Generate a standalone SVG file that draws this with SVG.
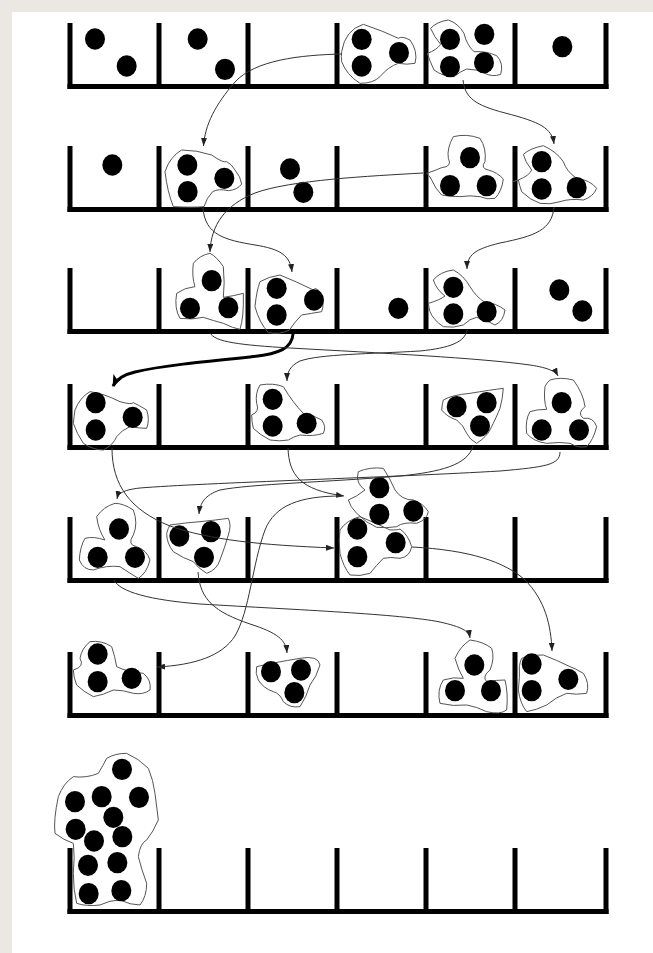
<svg xmlns="http://www.w3.org/2000/svg" width="653" height="953" viewBox="0 0 653 953">
<style>
.blob{fill:none;stroke:#555;stroke-width:1;vector-effect:non-scaling-stroke}
.dot{fill:#000}
.con{fill:none;stroke:#333;stroke-width:1}
.thick{fill:none;stroke:#000;stroke-width:3}
.wall{fill:#000}
</style>
<defs>
<marker id="ah" viewBox="0 0 8 6" refX="8" refY="3" markerWidth="8" markerHeight="6" markerUnits="userSpaceOnUse" orient="auto"><path d="M0,0 L8,3 L0,6 Z" fill="#222"/></marker>
<marker id="ahb" viewBox="0 0 12 10" refX="11" refY="5" markerWidth="12" markerHeight="10" markerUnits="userSpaceOnUse" orient="auto"><path d="M0,0 L12,5 L0,10 L3,5 Z" fill="#000"/></marker>
<g id="rack">
<rect class="wall" x="67.5" y="0" width="541" height="5"/>
<rect class="wall" x="67.5" y="-61" width="5" height="66"/>
<rect class="wall" x="156.5" y="-61" width="5" height="66"/>
<rect class="wall" x="245.5" y="-61" width="5" height="66"/>
<rect class="wall" x="334.5" y="-61" width="5" height="66"/>
<rect class="wall" x="423.5" y="-61" width="5" height="66"/>
<rect class="wall" x="512.5" y="-61" width="5" height="66"/>
<rect class="wall" x="603.5" y="-61" width="5" height="66"/>
</g>
</defs>
<rect x="0" y="0" width="653" height="953" fill="#ebe8e3"/>
<rect x="12" y="12" width="641" height="941" fill="#fff"/>

<g id="racks">
<use href="#rack" y="84"/>
<use href="#rack" y="207"/>
<use href="#rack" y="329"/>
<use href="#rack" y="445"/>
<use href="#rack" y="578"/>
<use href="#rack" y="713"/>
<use href="#rack" y="909"/>
</g>

<!-- Row 1 -->
<g transform="translate(60,15) scale(0.33333)">
<g id="r1b1"><ellipse class="dot" cx="105" cy="72" rx="30" ry="32"/><ellipse class="dot" cx="200" cy="153" rx="30" ry="32"/></g>
<g id="r1b2"><ellipse class="dot" cx="413" cy="72" rx="30" ry="32"/><ellipse class="dot" cx="495" cy="163" rx="30" ry="32"/></g>
</g>
<g transform="translate(330,15) scale(0.33333)">
<g id="r1b4"><path class="blob" d="M35,110 Q45,45 100,28 Q160,48 205,70 Q215,62 240,75 Q265,110 255,145 Q230,150 205,145 Q175,155 150,185 Q130,205 90,205 Q50,180 35,140 Q33,125 35,110Z"/>
<ellipse class="dot" cx="95" cy="73" rx="30" ry="32"/><ellipse class="dot" cx="95" cy="153" rx="30" ry="32"/><ellipse class="dot" cx="207" cy="113" rx="30" ry="32"/></g>
<g id="r1b5"><path class="blob" d="M292,115 Q320,105 332,88 Q312,65 302,40 Q320,20 355,15 Q385,25 402,55 Q410,90 432,110 Q470,108 500,122 Q522,145 512,178 Q488,187 465,175 Q440,162 410,162 Q390,170 372,185 Q340,185 312,165 Q300,140 292,115Z"/>
<ellipse class="dot" cx="360" cy="73" rx="30" ry="32"/><ellipse class="dot" cx="463" cy="58" rx="30" ry="32"/><ellipse class="dot" cx="360" cy="155" rx="30" ry="32"/><ellipse class="dot" cx="462" cy="143" rx="30" ry="32"/></g>
<g id="r1b6"><ellipse class="dot" cx="697" cy="95" rx="30" ry="32"/></g>
</g>

<!-- Row 2 -->
<g transform="translate(60,15) scale(0.33333)">
<g id="r2b1"><ellipse class="dot" cx="157" cy="450" rx="30" ry="32"/></g>
<g id="r2b2"><path class="blob" d="M340,575 Q322,530 315,470 Q330,425 365,405 Q410,405 455,420 Q490,445 500,440 Q515,447 525,465 Q542,485 545,507 Q532,525 505,527 Q475,520 458,530 Q440,548 432,575 Q400,578 340,575Z"/>
<ellipse class="dot" cx="382" cy="450" rx="30" ry="32"/><ellipse class="dot" cx="383" cy="530" rx="30" ry="32"/><ellipse class="dot" cx="493" cy="490" rx="30" ry="32"/></g>
<g id="r2b3"><ellipse class="dot" cx="690" cy="462" rx="30" ry="32"/><ellipse class="dot" cx="730" cy="532" rx="30" ry="32"/></g>
</g>
<g transform="translate(330,15) scale(0.33333)">
<g id="r2b5"><path class="blob" d="M290,475 Q312,468 335,458 Q368,455 355,430 Q350,400 370,365 Q410,355 450,370 Q470,400 465,440 Q450,460 475,465 Q502,472 520,492 Q515,530 495,550 Q470,555 450,545 Q420,540 390,545 Q362,545 335,540 Q315,520 305,495 Q298,480 290,475Z"/>
<ellipse class="dot" cx="420" cy="428" rx="30" ry="32"/><ellipse class="dot" cx="360" cy="512" rx="30" ry="32"/><ellipse class="dot" cx="470" cy="512" rx="30" ry="32"/></g>
<g id="r2b6"><path class="blob" d="M565,495 Q598,482 605,465 Q585,440 580,418 Q600,400 640,392 Q680,410 700,440 Q710,470 740,490 Q780,495 800,520 Q790,545 760,555 Q720,550 690,560 Q660,570 630,565 Q600,555 575,530 Q568,510 565,495Z M565,495 L548,500"/>
<ellipse class="dot" cx="635" cy="440" rx="30" ry="32"/><ellipse class="dot" cx="635" cy="522" rx="30" ry="32"/><ellipse class="dot" cx="740" cy="518" rx="30" ry="32"/></g>
</g>

<!-- Row 3 -->
<g transform="translate(60,210) scale(0.33333)">
<g id="r3b2"><path class="blob" d="M450,130 Q420,135 400,160 Q395,200 405,230 Q375,232 350,250 Q342,295 360,325 Q395,330 430,322 Q460,332 490,340 Q520,355 540,358 Q552,320 550,250 Q520,258 490,262 Q495,220 490,170 Q470,140 450,130Z"/>
<ellipse class="dot" cx="455" cy="212" rx="30" ry="32"/><ellipse class="dot" cx="390" cy="295" rx="30" ry="32"/><ellipse class="dot" cx="505" cy="293" rx="30" ry="32"/></g>
<g id="r3b3"><path class="blob" d="M600,215 Q625,200 660,195 Q710,215 760,240 Q765,230 780,245 Q795,280 785,305 Q755,310 725,315 Q705,335 688,360 Q660,375 625,368 Q598,338 585,290 Q590,240 600,215Z"/>
<ellipse class="dot" cx="650" cy="235" rx="30" ry="32"/><ellipse class="dot" cx="650" cy="315" rx="30" ry="32"/><ellipse class="dot" cx="762" cy="270" rx="30" ry="32"/></g>
</g>
<g transform="translate(330,210) scale(0.33333)">
<g id="r3b4"><ellipse class="dot" cx="205" cy="295" rx="30" ry="32"/></g>
<g id="r3b5"><path class="blob" d="M295,280 Q330,270 345,258 Q320,240 310,210 Q330,185 370,180 Q400,195 420,230 Q440,262 462,275 Q500,280 525,300 Q520,335 495,345 Q470,330 440,322 Q420,325 400,345 Q370,355 340,350 Q310,330 300,305 Q296,290 295,280Z"/>
<ellipse class="dot" cx="370" cy="232" rx="30" ry="32"/><ellipse class="dot" cx="370" cy="312" rx="30" ry="32"/><ellipse class="dot" cx="470" cy="305" rx="30" ry="32"/></g>
<g id="r3b6"><ellipse class="dot" cx="688" cy="240" rx="30" ry="32"/><ellipse class="dot" cx="757" cy="303" rx="30" ry="32"/></g>
</g>

<!-- Row 4 -->
<g transform="translate(60,210) scale(0.33333)">
<g id="r4b1"><path class="blob" d="M45,600 Q60,562 90,545 Q130,550 180,575 Q215,585 220,578 Q235,585 260,600 Q270,630 260,655 Q240,655 210,650 Q185,660 170,680 Q160,705 130,720 Q100,720 70,700 Q50,670 40,640 Q42,620 45,600Z"/>
<ellipse class="dot" cx="107" cy="578" rx="30" ry="32"/><ellipse class="dot" cx="107" cy="660" rx="30" ry="32"/><ellipse class="dot" cx="218" cy="622" rx="30" ry="32"/></g>
<g id="r4b3"><path class="blob" d="M575,615 Q600,605 590,580 Q585,550 600,525 Q640,518 670,530 Q700,580 730,610 Q760,615 785,630 Q800,650 790,670 Q760,680 720,675 Q700,680 685,690 Q660,695 630,690 Q600,675 580,655 Q575,635 575,615Z"/>
<ellipse class="dot" cx="638" cy="568" rx="30" ry="32"/><ellipse class="dot" cx="638" cy="648" rx="30" ry="32"/><ellipse class="dot" cx="740" cy="640" rx="30" ry="32"/></g>
</g>
<g transform="translate(330,210) scale(0.33333)">
<g id="r4b5"><path class="blob" d="M340,570 Q365,555 420,550 Q480,540 520,535 Q518,565 510,595 Q500,620 480,660 Q470,680 440,700 Q420,690 410,670 Q400,645 380,630 Q350,620 335,600 Q336,585 340,570Z"/>
<ellipse class="dot" cx="380" cy="590" rx="30" ry="32"/><ellipse class="dot" cx="470" cy="578" rx="30" ry="32"/><ellipse class="dot" cx="450" cy="648" rx="30" ry="32"/></g>
<g id="r4b6"><path class="blob" d="M660,510 Q690,500 730,510 Q760,550 765,590 Q740,610 760,625 Q790,620 800,650 Q790,690 770,710 Q745,715 720,700 Q690,695 650,700 Q610,695 590,670 Q585,630 600,605 Q620,598 650,598 Q640,570 645,530 Q650,518 660,510Z"/>
<ellipse class="dot" cx="695" cy="578" rx="30" ry="32"/><ellipse class="dot" cx="635" cy="660" rx="30" ry="32"/><ellipse class="dot" cx="747" cy="660" rx="30" ry="32"/></g>
</g>

<!-- Row 5 -->
<g transform="translate(60,450) scale(0.33333)">
<g id="r5b1"><path class="blob" d="M165,160 Q130,170 110,200 Q115,240 135,270 Q100,258 75,265 Q60,290 58,330 Q70,360 100,360 Q140,345 180,350 Q210,370 235,385 Q260,370 270,330 Q260,300 230,290 Q200,285 220,255 Q235,220 220,180 Q190,160 165,160Z"/>
<ellipse class="dot" cx="177" cy="237" rx="30" ry="32"/><ellipse class="dot" cx="113" cy="322" rx="30" ry="32"/><ellipse class="dot" cx="225" cy="322" rx="30" ry="32"/></g>
<g id="r5b2"><path class="blob" d="M330,225 Q380,218 420,215 Q470,210 505,205 Q515,225 505,255 Q495,290 480,330 Q470,360 440,370 Q415,355 400,335 Q370,325 340,305 Q320,280 320,250 Q324,235 330,225Z"/>
<ellipse class="dot" cx="358" cy="258" rx="30" ry="32"/><ellipse class="dot" cx="453" cy="245" rx="30" ry="32"/><ellipse class="dot" cx="432" cy="322" rx="30" ry="32"/></g>
</g>
<g transform="translate(330,450) scale(0.33333)">
<g id="r5b4"><path class="blob" d="M30,240 Q50,210 90,200 Q140,220 180,240 Q205,240 210,237 Q235,255 245,290 Q240,320 210,325 Q180,320 160,325 Q140,345 120,370 Q90,380 60,375 Q40,350 30,310 Q25,270 30,240Z"/>
<ellipse class="dot" cx="82" cy="237" rx="30" ry="32"/><ellipse class="dot" cx="82" cy="320" rx="30" ry="32"/><ellipse class="dot" cx="197" cy="278" rx="30" ry="32"/></g>
<g id="r5up"><path class="blob" d="M105,120 Q75,100 85,65 Q120,50 160,55 Q180,85 195,120 Q215,150 250,150 Q280,160 295,185 Q290,210 260,220 Q220,215 200,230 Q170,235 140,232 Q110,220 80,190 Q60,170 55,150 Q80,140 105,120Z"/>
<ellipse class="dot" cx="148" cy="113" rx="30" ry="32"/><ellipse class="dot" cx="148" cy="193" rx="30" ry="32"/><ellipse class="dot" cx="250" cy="183" rx="30" ry="32"/></g>
</g>

<!-- Row 6 -->
<g transform="translate(60,450) scale(0.33333)">
<g id="r6b1"><path class="blob" d="M40,660 Q75,650 60,625 Q65,595 90,575 Q125,570 155,590 Q165,620 170,650 Q200,665 250,670 Q275,690 270,720 Q250,735 220,730 Q190,720 160,720 Q130,735 100,740 Q70,725 50,705 Q40,680 40,660Z"/>
<ellipse class="dot" cx="113" cy="612" rx="30" ry="32"/><ellipse class="dot" cx="113" cy="695" rx="30" ry="32"/><ellipse class="dot" cx="215" cy="685" rx="30" ry="32"/></g>
<g id="r6b3"><path class="blob" d="M590,650 Q640,638 720,625 Q775,615 780,645 Q770,680 750,705 Q740,740 720,770 Q690,775 670,755 Q660,730 640,725 Q610,715 595,690 Q585,670 590,650Z"/>
<ellipse class="dot" cx="633" cy="665" rx="30" ry="32"/><ellipse class="dot" cx="723" cy="660" rx="30" ry="32"/><ellipse class="dot" cx="703" cy="728" rx="30" ry="32"/></g>
</g>
<g transform="translate(330,450) scale(0.33333)">
<g id="r6b5"><path class="blob" d="M420,570 Q390,590 375,625 Q385,660 400,685 Q370,680 340,690 Q320,720 330,760 Q370,770 410,765 Q440,770 470,785 Q510,795 530,780 Q535,730 525,690 Q500,690 470,695 Q455,680 480,660 Q495,625 485,595 Q460,575 420,570Z"/>
<ellipse class="dot" cx="433" cy="645" rx="30" ry="32"/><ellipse class="dot" cx="375" cy="722" rx="30" ry="32"/><ellipse class="dot" cx="483" cy="722" rx="30" ry="32"/></g>
<g id="r6b6"><path class="blob" d="M575,625 Q600,615 640,615 Q680,630 720,650 Q735,655 760,670 Q780,700 770,730 Q740,735 710,730 Q680,740 650,765 Q620,780 590,785 Q570,760 565,720 Q570,680 568,650 Q570,635 575,625Z"/>
<ellipse class="dot" cx="605" cy="642" rx="30" ry="32"/><ellipse class="dot" cx="605" cy="722" rx="30" ry="32"/><ellipse class="dot" cx="715" cy="688" rx="30" ry="32"/></g>
</g>

<!-- Row 7 -->
<g transform="translate(40,740) scale(0.33333)">
<g id="r7b1"><path class="blob" d="M200,55 Q225,40 260,40 Q295,55 325,85 Q340,120 345,160 Q350,200 355,240 Q340,275 320,300 Q300,310 295,350 Q305,390 320,430 Q320,470 300,495 Q270,495 240,480 Q210,480 180,495 Q140,500 110,490 Q100,450 100,400 Q105,350 100,310 Q70,300 45,280 Q40,240 55,170 Q70,130 100,110 Q140,115 175,100 Q190,75 200,55Z"/>
<ellipse class="dot" cx="246" cy="88" rx="30" ry="32"/><ellipse class="dot" cx="105" cy="185" rx="30" ry="32"/><ellipse class="dot" cx="185" cy="170" rx="30" ry="32"/><ellipse class="dot" cx="297" cy="172" rx="30" ry="32"/><ellipse class="dot" cx="220" cy="232" rx="30" ry="32"/><ellipse class="dot" cx="107" cy="268" rx="30" ry="32"/><ellipse class="dot" cx="162" cy="303" rx="30" ry="32"/><ellipse class="dot" cx="247" cy="290" rx="30" ry="32"/><ellipse class="dot" cx="144" cy="376" rx="30" ry="32"/><ellipse class="dot" cx="232" cy="368" rx="30" ry="32"/><ellipse class="dot" cx="146" cy="461" rx="30" ry="32"/><ellipse class="dot" cx="244" cy="452" rx="30" ry="32"/></g>
</g>

<g id="connectors">
<path class="con" marker-end="url(#ah)" d="M342,54 C300,55 255,60 235,82 C215,105 205,125 203.5,146"/>
<path class="con" marker-end="url(#ah)" d="M463,80 C465,98 475,105 505,113 C540,122 552,128 554,144"/>
<path class="con" marker-end="url(#ah)" d="M423,173 C370,176 290,180 255,193 C225,205 211,225 210,252"/>
<path class="con" marker-end="url(#ah)" d="M203,208 C205,235 225,240 255,245 C280,249 290,255 292,272"/>
<path class="con" marker-end="url(#ah)" d="M554,207 C552,230 535,236 500,243 C475,249 467,255 467,269"/>
<path class="thick" marker-end="url(#ahb)" d="M293,334 C292,348 280,354 250,357 C200,362 160,366 135,372 C122,375 116,380 113,386"/>
<path class="con" marker-end="url(#ah)" d="M210,333 C215,342 240,345 290,348 C380,353 480,358 530,365 C550,368 556,372 558,376"/>
<path class="con" marker-end="url(#ah)" d="M467,330 C465,342 450,348 420,351 C370,354 320,354 300,361 C290,366 287,372 287,381"/>
<path class="con" marker-end="url(#ah)" d="M112,448 C112,485 130,510 170,526 C210,540 260,545 334,548"/>
<path class="con" marker-end="url(#ah)" d="M288,448 C289,475 300,490 344,496"/>
<path class="con" marker-end="url(#ah)" d="M342,496 C300,496 275,505 265,530 C252,565 250,610 235,636 C222,656 195,665 157,667"/>
<path class="con" marker-end="url(#ah)" d="M473,446 C468,465 440,472 400,476 C330,482 250,484 220,490 C205,495 200,503 199,514"/>
<path class="con" marker-end="url(#ah)" d="M560,452 C560,465 545,467 500,471 C400,477 200,483 140,488 C122,490 118,494 117,499"/>
<path class="con" marker-end="url(#ah)" d="M198,572 C200,600 215,612 250,624 C278,633 286,640 287,653"/>
<path class="con" marker-end="url(#ah)" d="M114,580 C120,592 150,600 200,604 C300,610 400,614 440,622 C462,627 469,631 470,638"/>
<path class="con" marker-end="url(#ah)" d="M412,547 C470,550 505,562 525,580 C545,600 551,625 552,651"/>
</g>
</svg>
